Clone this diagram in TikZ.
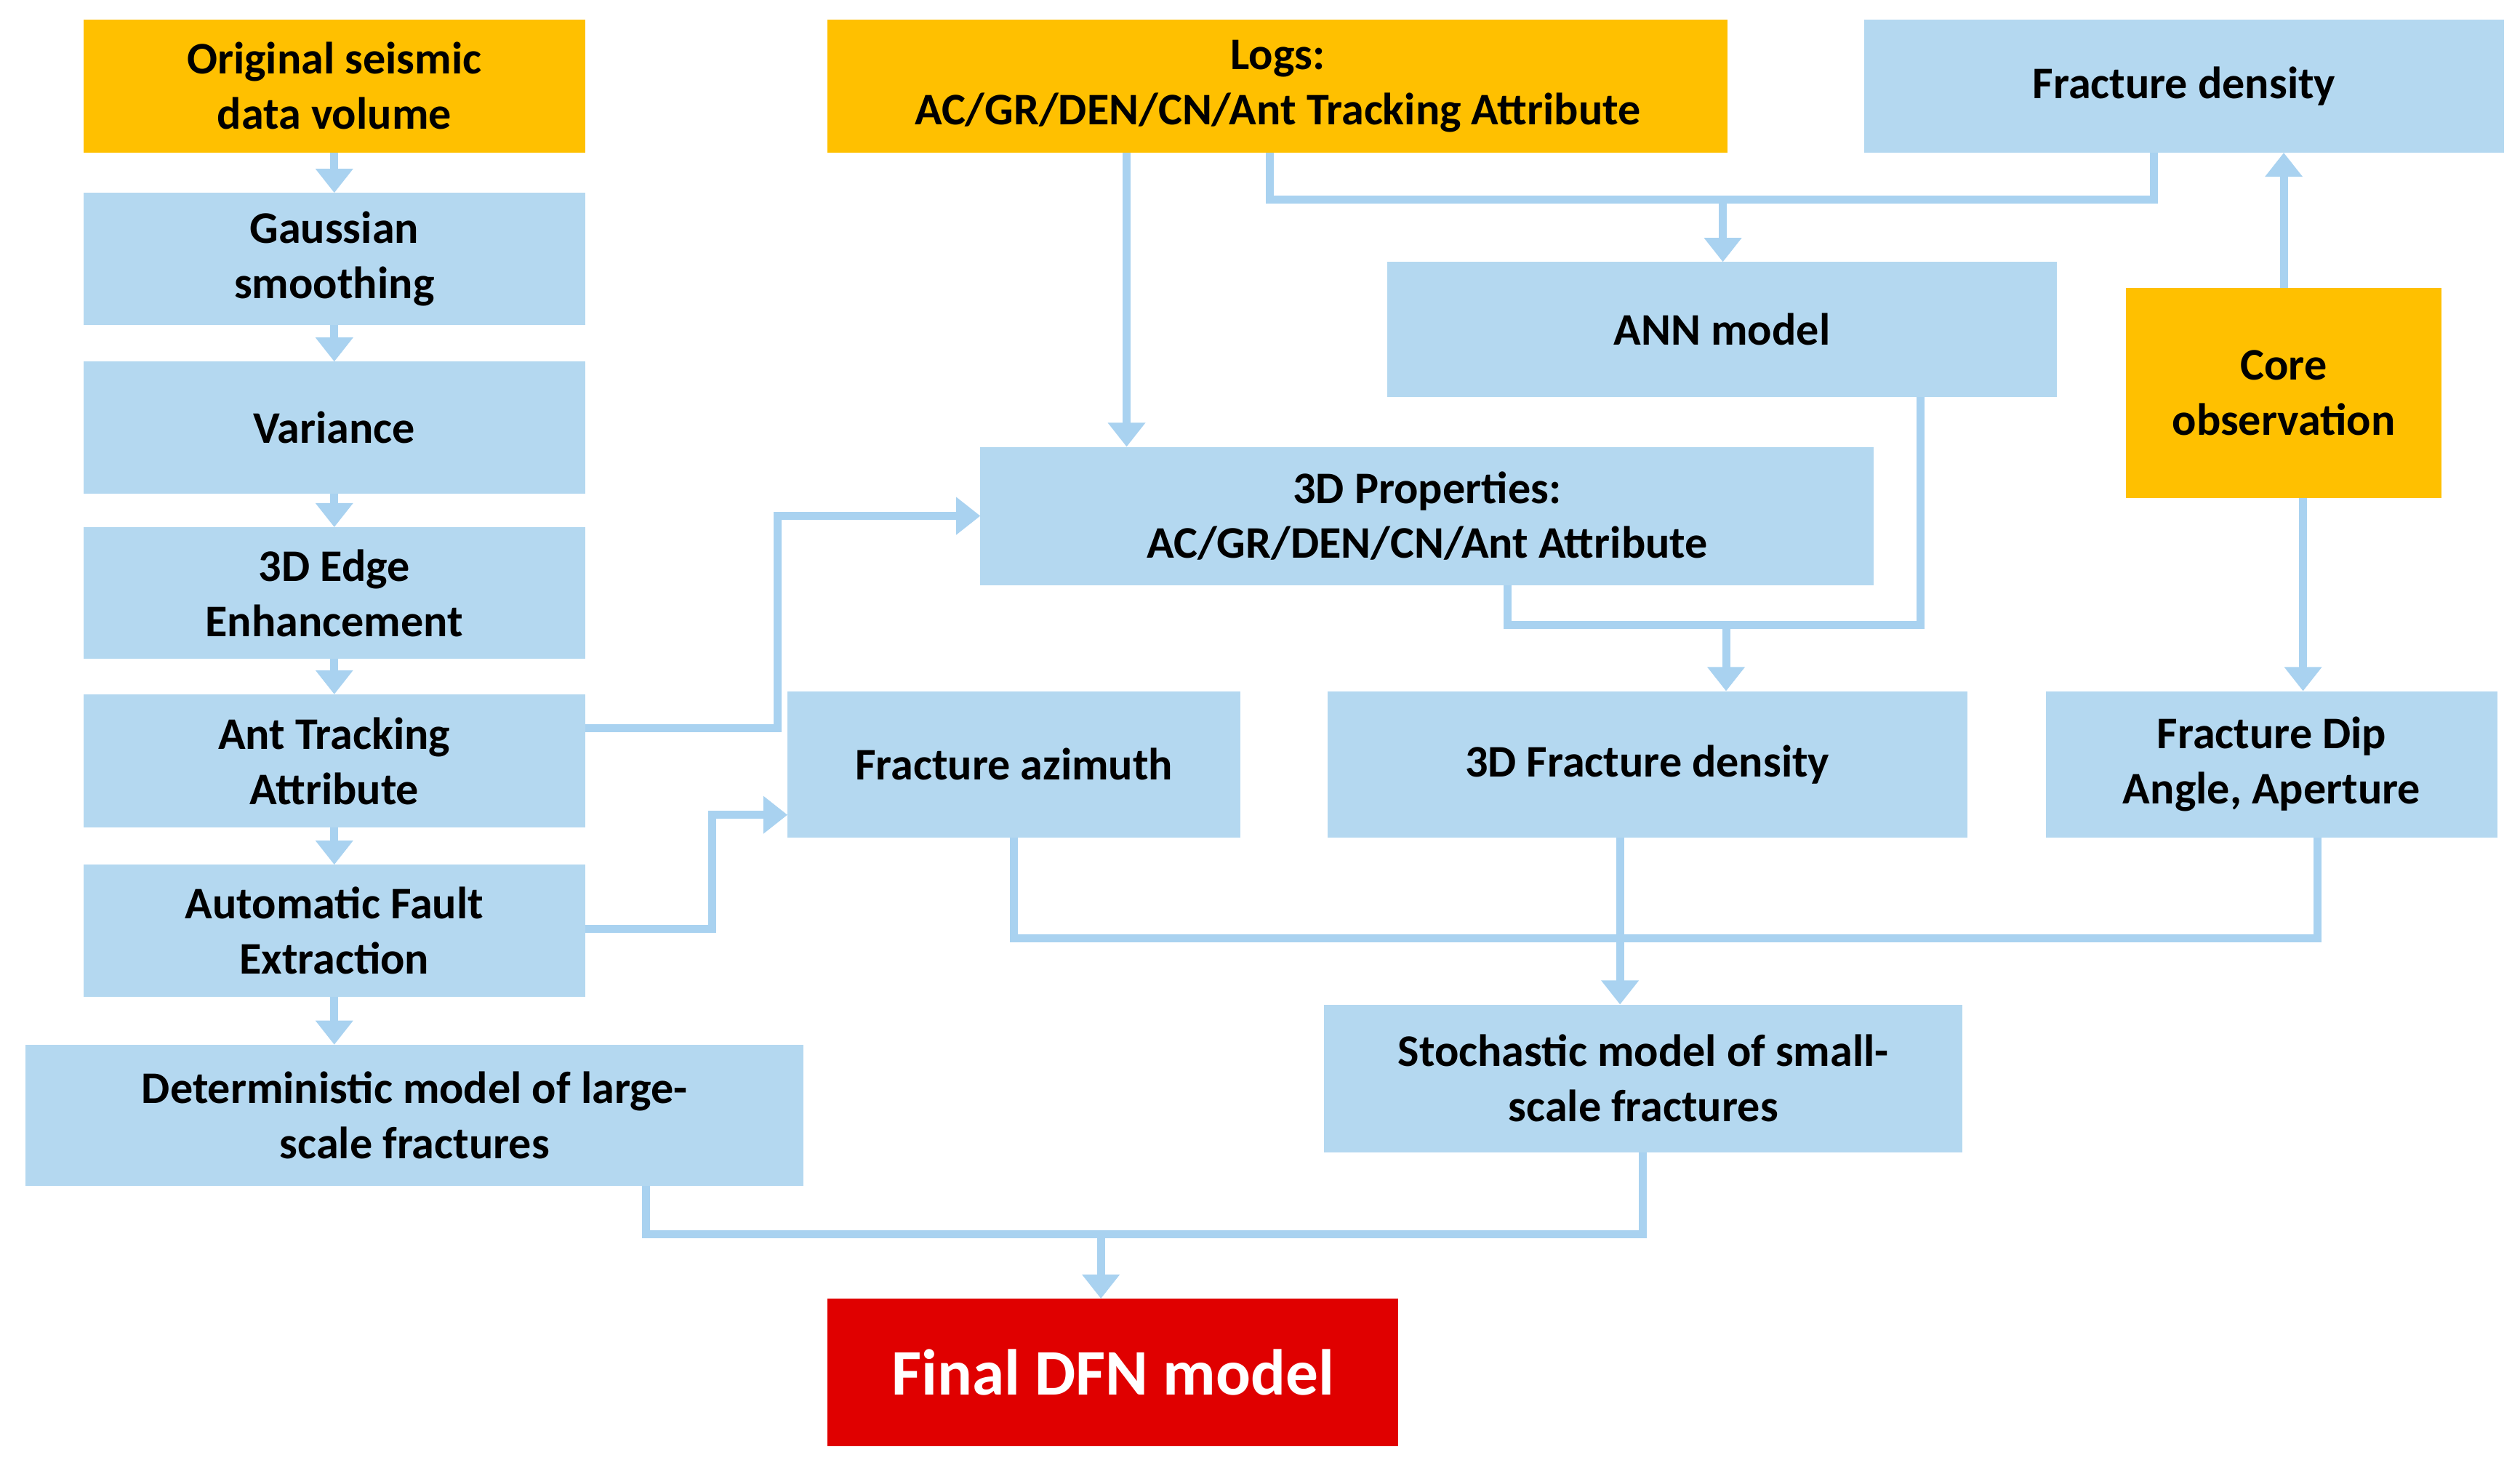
\documentclass[tikz,border=0pt]{standalone}
\usepackage{fontspec}
\setmainfont{Carlito}
\usetikzlibrary{arrows.meta}
\definecolor{bl}{HTML}{B4D8F0}
\definecolor{ln}{HTML}{A9D2F0}
\definecolor{og}{HTML}{FFC000}
\definecolor{rd}{HTML}{E00000}
\newcommand{\bx}[7]{\node[#6, minimum width={(#4-#2)*0.2mm}, minimum height={(#5-#3)*0.2mm}] (#1) at ({(#2+#4)/2},{(#3+#5)/2}) {#7};}
\begin{document}
\begin{tikzpicture}[x=0.2mm,y=-0.2mm,
 box/.style={fill=bl,draw=none,inner sep=0pt,outer sep=0pt,align=center,font=\fontsize{16}{19.5}\selectfont\bfseries},
 obox/.style={box,fill=og},
 rbox/.style={box,fill=rd,text=white,font=\fontsize{23}{27}\selectfont\bfseries},
 c/.style={draw=ln,line width=1mm},
 a/.style={c,-{Triangle[length=3mm,width=4.5mm]}}]
\useasboundingbox (0,0) rectangle (1568,913);
\bx{orig}{52}{12}{364}{95}{obox}{Original seismic\\data volume}
\bx{gauss}{52}{120}{364}{202}{box}{Gaussian\\smoothing}
\bx{var}{52}{225}{364}{307}{box}{Variance}
\bx{edge}{52}{328}{364}{410}{box}{3D Edge\\Enhancement}
\bx{ant}{52}{432}{364}{515}{box}{Ant Tracking\\Attribute}
\bx{fault}{52}{538}{364}{620}{box}{Automatic Fault\\Extraction}
\bx{det}{16}{650}{500}{738}{box}{Deterministic model of large-\\scale fractures}
\bx{logs}{515}{12}{1075}{95}{obox}{Logs:\\AC/GR/DEN/CN/Ant Tracking Attribute}
\bx{fd}{1160}{12}{1558}{95}{box}{Fracture density}
\bx{ann}{863}{163}{1280}{247}{box}{ANN model}
\bx{core}{1323}{179}{1519}{310}{obox}{Core\\observation}
\bx{props}{610}{278}{1166}{364}{box}{3D Properties:\\AC/GR/DEN/CN/Ant Attribute}
\bx{az}{490}{430}{772}{521}{box}{Fracture azimuth}
\bx{tfd}{826}{430}{1224}{521}{box}{3D Fracture density}
\bx{dip}{1273}{430}{1554}{521}{box}{Fracture Dip\\Angle, Aperture}
\bx{st}{824}{625}{1221}{717}{box}{Stochastic model of small-\\scale fractures}
\bx{fin}{515}{808}{870}{900}{rbox}{Final DFN model}
\draw[a] (orig) -- (gauss);
\draw[a] (gauss) -- (var);
\draw[a] (var) -- (edge);
\draw[a] (edge) -- (ant);
\draw[a] (ant) -- (fault);
\draw[a] (fault.south) -- (fault.south |- det.north);
\draw[a] (ant.east |- 0,453) -- (484,453) -- (484,321) -- (props.west |- 0,321);
\draw[a] (fault.east |- 0,578) -- (443,578) -- (443,507) -- (az.west |- 0,507);
\draw[a] (logs.south -| 701,0) -- (props.north -| 701,0);
\draw[c] (logs.south -| 790,0) -- (790,124) -- (1340,124) -- (fd.south -| 1340,0);
\draw[a] (1072,124) -- (ann.north -| 1072,0);
\draw[c] (ann.south -| 1195,0) -- (1195,389) -- (938,389) -- (props.south -| 938,0);
\draw[a] (1074,389) -- (tfd.north -| 1074,0);
\draw[a] (core.north -| 1421,0) -- (fd.south -| 1421,0);
\draw[a] (core.south -| 1433,0) -- (dip.north -| 1433,0);
\draw[c] (az.south -| 631,0) -- (631,584) -- (1442,584) -- (dip.south -| 1442,0);
\draw[a] (tfd.south -| 1008,0) -- (st.north -| 1008,0);
\draw[c] (det.south -| 402,0) -- (402,768) -- (1022,768) -- (st.south -| 1022,0);
\draw[a] (685,768) -- (fin.north -| 685,0);
\end{tikzpicture}
\end{document}
